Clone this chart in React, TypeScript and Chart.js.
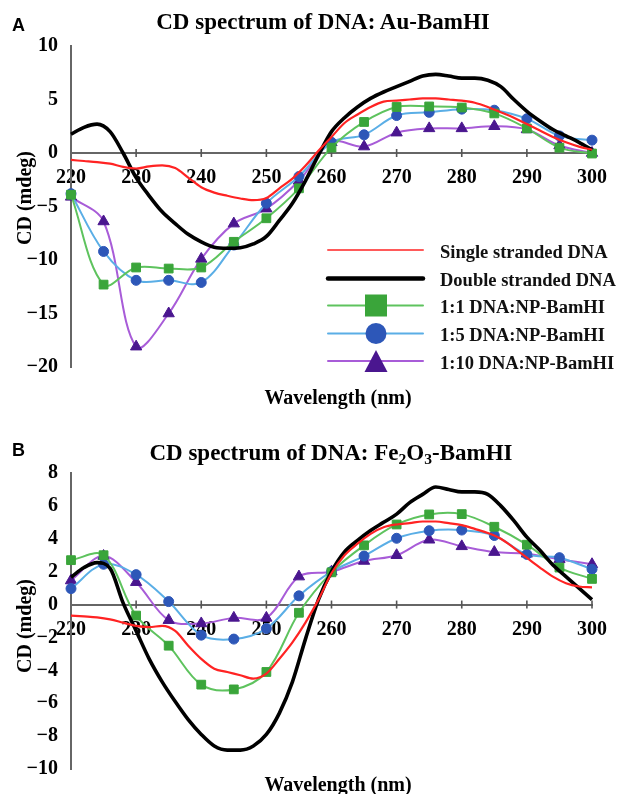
import React, { useEffect, useRef } from 'react';
import { Chart, registerables } from 'chart.js';
Chart.register(...registerables);

// ---------- data ----------
const markerNm = [220, 225, 230, 235, 240, 245, 250, 255, 260, 265, 270, 275, 280, 285, 290, 295, 300];
const curveNm = [220, 222, 224, 226, 228, 230, 232, 234, 236, 238, 240, 242, 244, 246, 248, 250, 252, 254, 256, 258, 260,
  262, 264, 266, 268, 270, 272, 274, 276, 278, 280, 282, 284, 286, 288, 290, 292, 294, 296, 298, 300];

// Panel A: Au-BamHI
const ssA = [-0.65, -0.75, -0.85, -1.0, -1.3, -1.45, -1.25, -1.15, -1.4, -2.3, -3.2, -3.7, -4.0, -4.25, -4.4, -4.2, -3.3, -2.4, -1.2, 0.2, 1.5,
  2.8, 3.6, 4.3, 4.8, 4.9, 5.0, 5.1, 5.1, 5.0, 4.9, 4.7, 4.3, 3.8, 3.3, 2.7, 2.1, 1.5, 1.0, 0.6, 0.3];
const dsA = [1.75, 2.4, 2.7, 2.0, 0.0, -2.3, -4.0, -5.5, -6.6, -7.6, -8.3, -8.8, -8.9, -8.85, -8.5, -7.8, -6.3, -4.7, -2.6, -0.2, 2.0,
  3.3, 4.3, 5.1, 5.7, 6.2, 6.7, 7.2, 7.35, 7.2, 7.0, 7.0, 6.8, 6.2, 5.0, 3.9, 3.0, 2.2, 1.6, 1.0, 0.3];
const np11A = [-3.9, -12.3, -10.7, -10.8, -10.7, -8.3, -6.1, -3.3, 0.5, 2.9, 4.3, 4.35, 4.25, 3.7, 2.3, 0.5, -0.05];
const np15A = [-3.8, -9.2, -11.9, -11.9, -12.1, -8.6, -4.7, -2.2, 1.0, 1.7, 3.5, 3.8, 4.1, 4.0, 3.2, 1.6, 1.2];
const np110A = [-4.1, -6.4, -18.1, -15.0, -9.9, -6.6, -5.2, -2.6, 1.0, 0.6, 1.9, 2.3, 2.3, 2.5, 2.2, 0.7, 0.0];

// Panel B: Fe2O3-BamHI
const ssB = [-0.67, -0.72, -0.78, -0.9, -1.1, -1.3, -1.37, -1.3, -1.6, -2.5, -3.3, -3.9, -4.1, -4.3, -4.5, -4.2, -3.3, -2.3, -1.1, 0.3, 1.9,
  3.0, 3.7, 4.3, 4.7, 4.87, 4.95, 5.05, 5.05, 4.95, 4.83, 4.6, 4.35, 4.0, 3.45, 2.85, 2.25, 1.7, 1.3, 1.1, 1.05];
const dsB = [1.66, 2.25, 2.55, 2.2, 0.1, -1.6, -3.3, -4.7, -5.9, -7.0, -7.9, -8.6, -8.85, -8.85, -8.6, -7.9, -6.6, -4.7, -2.1, 0.3, 2.0,
  3.2, 3.9, 4.5, 5.0, 5.5, 6.2, 6.7, 7.15, 7.0, 6.85, 6.85, 6.7, 6.0, 5.1, 4.1, 3.3, 2.4, 1.7, 1.0, 0.3];
const np11B = [2.7, 3.0, -0.67, -2.5, -4.87, -5.16, -4.1, -0.5, 1.96, 3.6, 4.87, 5.48, 5.5, 4.73, 3.64, 2.25, 1.56];
const np15B = [0.97, 2.45, 1.82, 0.18, -1.86, -2.1, -1.46, 0.53, 2.0, 2.95, 4.03, 4.49, 4.53, 4.2, 3.05, 2.85, 2.15];
const np110B = [1.46, 2.95, 1.36, -0.95, -1.15, -0.81, -0.81, 1.7, 2.0, 2.65, 3.0, 3.94, 3.54, 3.19, 3.09, 2.75, 2.45];

const seriesLabels = ['Single stranded DNA', 'Double stranded DNA', '1:1 DNA:NP-BamHI', '1:5 DNA:NP-BamHI', '1:10 DNA:NP-BamHI'];
const xMin = 220;
const xMax = 300;
const xStep = 10;
const yRangeA = { min: -20, max: 10, step: 5 };
const yRangeB = { min: -10, max: 8, step: 2 };

// ---------- styles ----------
const SERIF = '"Liberation Serif", "Times New Roman", serif';
const SANS = '"Liberation Sans", Arial, sans-serif';
const RED = '#ff2323';
const GREEN_L = '#5ec35e';
const GREEN_M = '#3aa53a';
const BLUE_L = '#5aaee6';
const BLUE_M = '#2d57b8';
const PURP_L = '#a85cd8';
const PURP_M = '#4a168f';

const toXY = (xs: number[], ys: number[]) => xs.map((x, i) => ({ x, y: ys[i] }));

const crossTicks = {
  id: 'crossTicks',
  beforeDatasetsDraw(chart: any) {
    const xs = chart.scales.x;
    const ys = chart.scales.y;
    const y0 = ys.getPixelForValue(0);
    const ctx = chart.ctx;
    ctx.save();
    ctx.strokeStyle = '#555';
    ctx.lineWidth = 1.6;
    xs.ticks.forEach((t: any) => {
      if (t.value === xs.min) return;
      const px = xs.getPixelForValue(t.value);
      ctx.beginPath();
      ctx.moveTo(px, y0 - 4);
      ctx.lineTo(px, y0 + 4);
      ctx.stroke();
    });
    ctx.restore();
  },
};

const cdLegend = {
  id: 'cdLegend',
  afterDraw(chart: any, _args: any, opts: any) {
    if (!opts || !opts.display) return;
    const ctx = chart.ctx;
    const { x0, x1, xm, xt, rows, items } = opts;
    items.forEach((it: any, i: number) => {
      const y = rows[i];
      ctx.save();
      ctx.strokeStyle = it.line;
      ctx.lineWidth = it.width;
      ctx.lineCap = 'round';
      ctx.beginPath();
      ctx.moveTo(x0, y);
      ctx.lineTo(x1, y);
      ctx.stroke();
      ctx.fillStyle = it.marker;
      if (it.shape === 'rect') {
        ctx.fillRect(xm - 11, y - 11, 22, 22);
      } else if (it.shape === 'circle') {
        ctx.beginPath();
        ctx.arc(xm, y, 10.5, 0, Math.PI * 2);
        ctx.fill();
      } else if (it.shape === 'triangle') {
        ctx.beginPath();
        ctx.moveTo(xm, y - 11);
        ctx.lineTo(xm + 11.5, y + 11);
        ctx.lineTo(xm - 11.5, y + 11);
        ctx.closePath();
        ctx.fill();
      }
      ctx.fillStyle = '#111';
      ctx.font = 'bold 18.5px ' + SERIF;
      ctx.textBaseline = 'middle';
      ctx.textAlign = 'left';
      ctx.fillText(it.label, xt, y + 3);
      ctx.restore();
    });
  },
};

function makeConfig(
  ss: number[], ds: number[], n1: number[], n5: number[], n10: number[],
  yr: { min: number; max: number; step: number },
  padTop: number, padBottom: number, withLegend: boolean,
) {
  const tickFont = { family: SERIF, size: 20, weight: 'bold' as const };
  const markerSet = (data: number[], line: string, marker: string, style: string, r: number, label: string) => ({
    label,
    data: toXY(markerNm, data),
    borderColor: line,
    borderWidth: 2,
    pointStyle: style,
    pointRadius: r,
    pointBackgroundColor: marker,
    pointBorderColor: marker,
    pointBorderWidth: 1,
    tension: 0.35,
    clip: false,
  });
  return {
    type: 'line' as const,
    data: {
      datasets: [
        { label: seriesLabels[0], data: toXY(curveNm, ss), borderColor: RED, borderWidth: 2.2, pointRadius: 0, tension: 0.4, cubicInterpolationMode: 'monotone', clip: false },
        { label: seriesLabels[1], data: toXY(curveNm, ds), borderColor: '#000', borderWidth: 3.6, pointRadius: 0, tension: 0.4, cubicInterpolationMode: 'monotone', clip: false },
        markerSet(n1, GREEN_L, GREEN_M, 'rect', 6.2, seriesLabels[2]),
        markerSet(n5, BLUE_L, BLUE_M, 'circle', 5, seriesLabels[3]),
        markerSet(n10, PURP_L, PURP_M, 'triangle', 6.5, seriesLabels[4]),
      ],
    },
    options: {
      responsive: false,
      animation: false,
      devicePixelRatio: 1,
      layout: { autoPadding: false, padding: { top: padTop, bottom: padBottom, left: 0, right: 18 } },
      plugins: {
        legend: { display: false },
        tooltip: { enabled: false },
        cdLegend: {
          display: withLegend,
          x0: 328, x1: 423, xm: 376, xt: 440,
          rows: [250, 278.5, 305.5, 333.5, 361],
          items: [
            { label: seriesLabels[0], line: '#ff5a5a', width: 2, shape: 'none', marker: RED },
            { label: seriesLabels[1], line: '#000', width: 4.5, shape: 'none', marker: '#000' },
            { label: seriesLabels[2], line: GREEN_L, width: 2, shape: 'rect', marker: GREEN_M },
            { label: seriesLabels[3], line: BLUE_L, width: 2, shape: 'circle', marker: BLUE_M },
            { label: seriesLabels[4], line: PURP_L, width: 2, shape: 'triangle', marker: PURP_M },
          ],
        },
      },
      scales: {
        x: {
          type: 'linear',
          position: { y: 0 },
          min: xMin,
          max: xMax,
          afterFit: (s: any) => { s.height = 0; },
          grid: { display: false, drawTicks: false },
          border: { display: true, color: '#666', width: 2 },
          ticks: { stepSize: xStep, padding: 13, color: '#000', font: tickFont, maxRotation: 0, autoSkip: false },
        },
        y: {
          type: 'linear',
          position: 'left',
          min: yr.min,
          max: yr.max,
          afterFit: (s: any) => { s.width = 71; },
          grid: { display: false, drawTicks: false },
          border: { display: true, color: '#666', width: 2 },
          ticks: {
            stepSize: yr.step,
            padding: 13,
            color: '#000',
            font: tickFont,
            callback: (v: any) => (v < 0 ? '\u2212' + Math.abs(v) : String(v)),
          },
        },
      },
    },
    plugins: [crossTicks, cdLegend],
  };
}

export default function App() {
  const refA = useRef<HTMLCanvasElement>(null);
  const refB = useRef<HTMLCanvasElement>(null);

  useEffect(() => {
    document.body.style.margin = '0';
    const a = new Chart(refA.current as HTMLCanvasElement, makeConfig(ssA, dsA, np11A, np15A, np110A, yRangeA, 46, 43, true) as any);
    const b = new Chart(refB.current as HTMLCanvasElement, makeConfig(ssB, dsB, np11B, np15B, np110B, yRangeB, 63, 17, false) as any);
    return () => { a.destroy(); b.destroy(); };
  }, []);

  const abs = (left: number, top: number, extra: any = {}) => ({ position: 'absolute' as const, left, top, whiteSpace: 'nowrap' as const, ...extra });
  const titleStyle = { font: `bold 23px ${SERIF}`, lineHeight: '23px', width: 600, textAlign: 'center' as const, color: '#000' };
  const axisTitle = { font: `bold 20px ${SERIF}`, lineHeight: '20px', width: 400, textAlign: 'center' as const, color: '#000' };
  const yTitle = { ...axisTitle, width: 200, transform: 'rotate(-90deg)', transformOrigin: '50% 50%' };
  const panelLetter = { font: `bold 18px ${SANS}`, lineHeight: '18px', color: '#000' };
  const subStyle = { fontSize: '0.68em', lineHeight: 0, verticalAlign: '-0.25em' };

  return (
    <div style={{ position: 'relative', width: 620, height: 794, background: '#fff', overflow: 'hidden' }}>
      <canvas ref={refA} width={620} height={410} style={{ position: 'absolute', left: 0, top: 0 }} />
      <canvas ref={refB} width={620} height={384} style={{ position: 'absolute', left: 0, top: 410 }} />
      <div style={abs(12, 16, panelLetter)}>A</div>
      <div style={abs(23, 10, titleStyle)}>CD spectrum of DNA: Au-BamHI</div>
      <div style={abs(24 - 100, 198 - 10, yTitle)}>CD (mdeg)</div>
      <div style={abs(138, 387, axisTitle)}>Wavelength (nm)</div>
      <div style={abs(12, 441, panelLetter)}>B</div>
      <div style={abs(31, 441, titleStyle)}>
        CD spectrum of DNA: Fe<sub style={subStyle}>2</sub>O<sub style={subStyle}>3</sub>-BamHI
      </div>
      <div style={abs(24 - 100, 626 - 10, yTitle)}>CD (mdeg)</div>
      <div style={abs(138, 774, axisTitle)}>Wavelength (nm)</div>
    </div>
  );
}
